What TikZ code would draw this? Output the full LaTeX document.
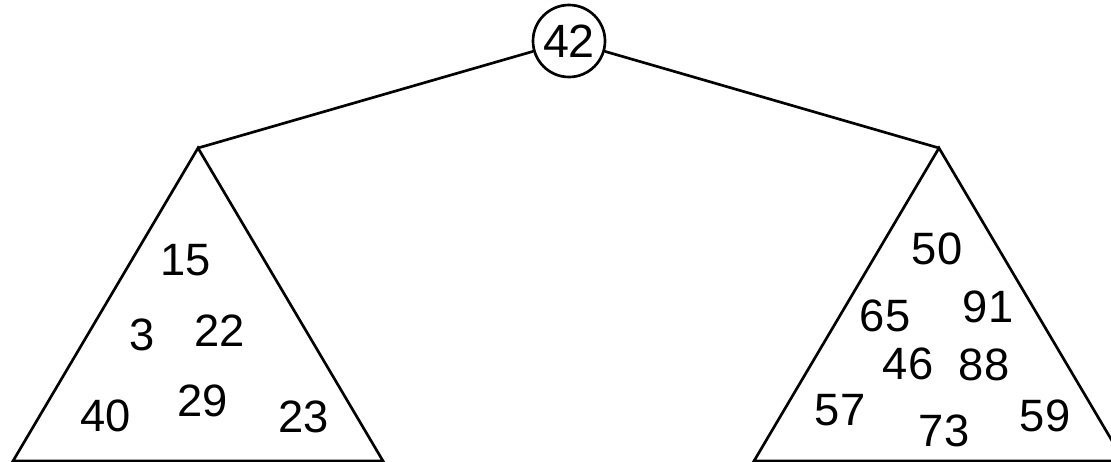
\documentclass[tikz,border=0pt]{standalone}
\usepackage{fontspec}
\setmainfont{Liberation Sans}
\begin{document}
\begin{tikzpicture}[x=0.75pt,y=-0.75pt,
  edge/.style={line width=2pt, line join=miter},
  num/.style={font=\fontsize{34}{40}\selectfont, inner sep=0pt},
  rootnode/.style={circle, draw, line width=2pt, minimum size=54pt, inner sep=0pt, font=\fontsize{35}{40}\selectfont}]
\useasboundingbox (0,0) rectangle (1111,461);
\begin{scope}
\clip (0,0) rectangle (1111,461);
% root
\node[rootnode] (root) at (569,41) {\raisebox{-3pt}{42}};
% apex coordinates
\coordinate (apexL) at (198,148);
\coordinate (apexR) at (939,148);
\coordinate (blL) at (13,461);
\coordinate (brL) at (383,461);
\coordinate (blR) at (754,461);
\coordinate (brR) at (1124,461);
% triangles
\draw[edge] (apexL) -- (blL) -- (brL) -- cycle;
\draw[edge] (apexR) -- (blR) -- (brR) -- cycle;
% connectors
\draw[edge] (root) -- (apexL);
\draw[edge] (root) -- (apexR);
\end{scope}
% left subtree values
\node[num] (n15) at (186,260) {15};
\node[num] (n3) at (142,335) {3};
\node[num] (n22) at (220,331) {22};
\node[num] (n29) at (203,401) {29};
\node[num] (n40) at (106,416) {40};
\node[num] (n23) at (304,417) {23};
% right subtree values
\node[num] (n50) at (937,249) {50};
\node[num] (n65) at (885,316) {65};
\node[num] (n91) at (988,307) {91};
\node[num] (n46) at (908,364) {46};
\node[num] (n88) at (984,365) {88};
\node[num] (n57) at (840,410) {57};
\node[num] (n73) at (944,431) {73};
\node[num] (n59) at (1045,416) {59};
\end{tikzpicture}
\end{document}
